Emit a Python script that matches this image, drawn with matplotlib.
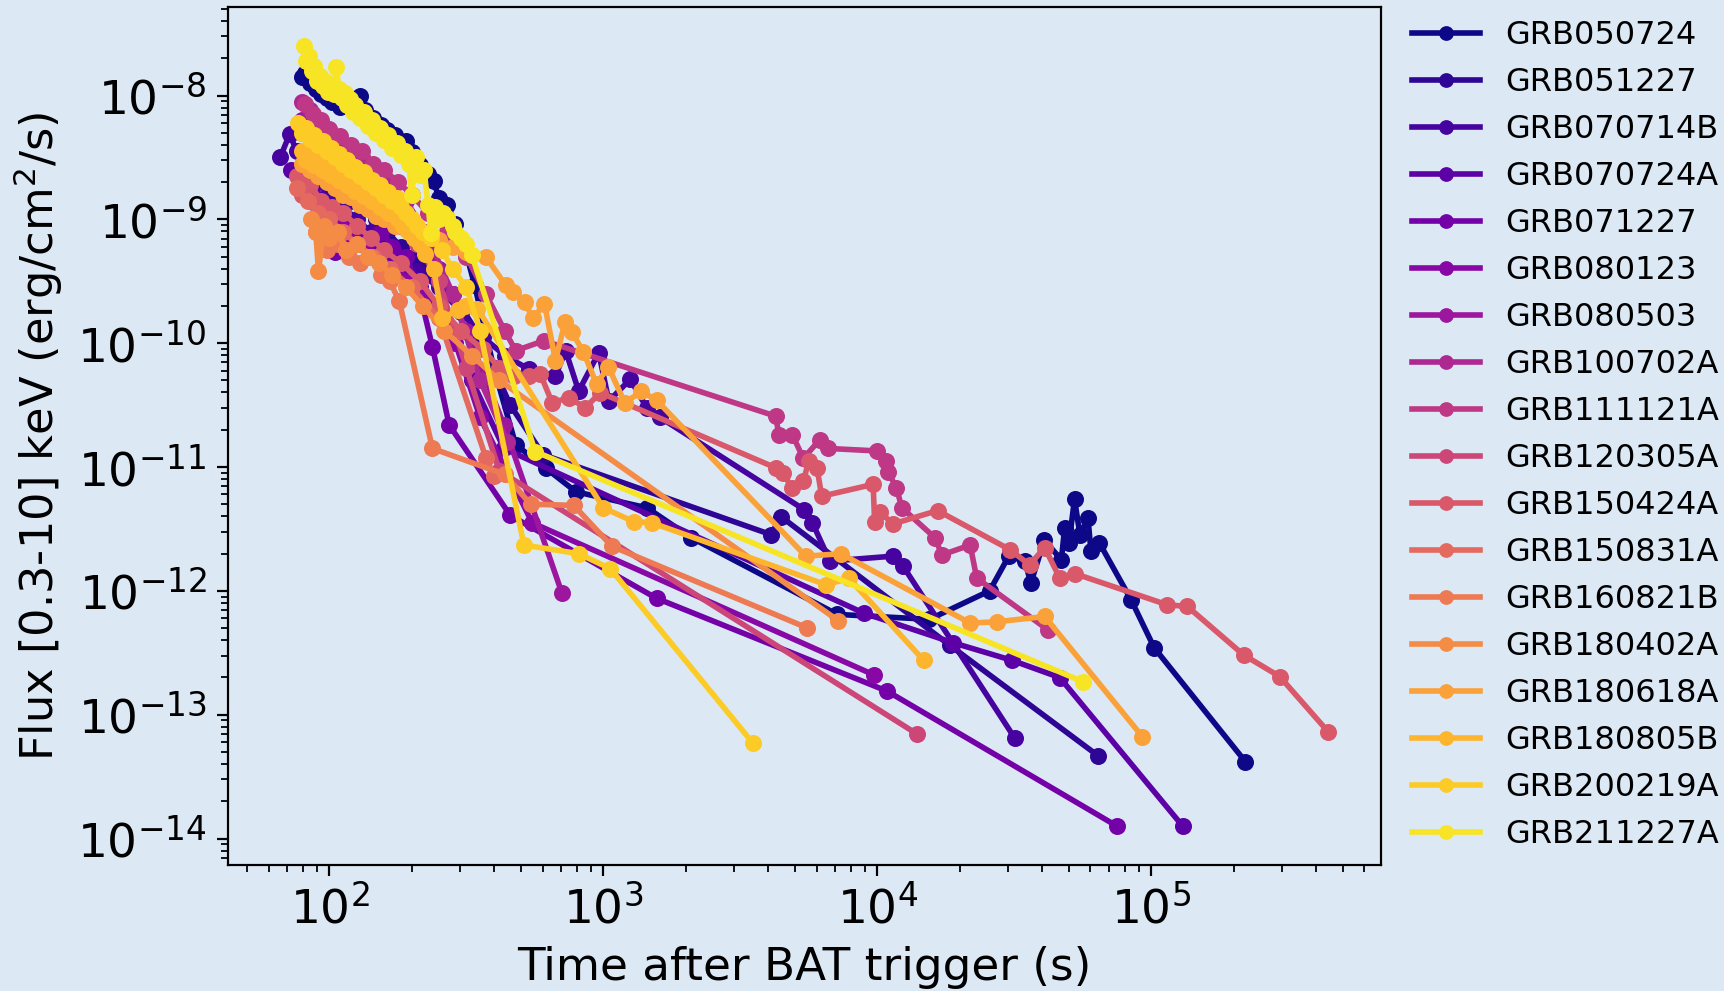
"""X-ray afterglow light curves of short GRBs (Swift/XRT, 0.3-10 keV)."""

import matplotlib

matplotlib.use("Agg")
import matplotlib.pyplot as plt
import numpy as np

BG = "#dce9f5"

GRB_NAMES = [
    "GRB050724", "GRB051227", "GRB070714B", "GRB070724A", "GRB071227",
    "GRB080123", "GRB080503", "GRB100702A", "GRB111121A", "GRB120305A",
    "GRB150424A", "GRB150831A", "GRB160821B", "GRB180402A", "GRB180618A",
    "GRB180805B", "GRB200219A", "GRB211227A",
]

# log10(time after trigger / s) and log10(flux / erg cm^-2 s^-1)
t_050724 = [1.898, 1.91, 1.93, 1.95, 1.97, 1.99, 2.01, 2.04, 2.07, 2.09, 2.11, 2.13, 2.16,
            2.19, 2.21, 2.24, 2.26, 2.28, 2.30, 2.33, 2.36, 2.38, 2.40, 2.43, 2.46, 2.49,
            2.53, 2.60, 2.68, 2.79, 2.90, 3.16, 3.32, 3.854, 4.19, 4.41, 4.48, 4.54, 4.56,
            4.61, 4.672, 4.684, 4.70, 4.72, 4.74, 4.769, 4.78, 4.81, 4.926, 5.011, 5.344]
f_050724 = [-7.85, -7.82, -7.90, -7.95, -7.99, -8.02, -8.05, -8.09, -8.08, -8.06, -8.0, -8.12,
            -8.18, -8.24, -8.28, -8.32, -8.38, -8.37, -8.46, -8.56, -8.63, -8.69, -8.83, -8.88,
            -9.04, -9.2, -9.53, -10.2, -10.82, -11.01, -11.2, -11.33, -11.57, -12.19, -12.23,
            -12.0, -11.72, -11.76, -11.94, -11.59, -11.75, -11.49, -11.61, -11.26, -11.55,
            -11.41, -11.68, -11.61, -12.07, -12.46, -13.38]

t_051227 = [1.95, 1.98, 2.01, 2.05, 2.09, 2.13, 2.17, 2.21, 2.26, 2.31, 2.37, 2.45, 2.55, 2.66,
            2.78, 3.612, 3.648, 4.265, 4.805]
f_051227 = [-8.45, -8.6, -8.65, -8.75, -8.85, -8.9, -9.0, -9.1, -9.22, -9.3, -9.4, -9.6, -9.95,
            -10.5, -10.9, -11.546, -11.40, -12.44, -13.33]

t_070714B = [1.82, 1.855, 1.88, 1.92, 1.96, 2.0, 2.05, 2.1, 2.15, 2.2, 2.25, 2.32, 2.4, 2.48,
             2.56, 2.64, 2.728, 2.825, 2.862, 2.91, 2.983, 3.02, 3.098, 3.158, 3.207, 3.733,
             3.763, 3.827, 4.056, 4.094, 4.502]
f_070714B = [-8.50, -8.31, -8.45, -8.62, -8.70, -8.78, -8.9, -9.0, -9.1, -9.2, -9.3, -9.42,
             -9.55, -9.75, -9.95, -10.1, -10.21, -10.265, -10.06, -10.387, -10.077, -10.467,
             -10.292, -10.52, -10.60, -11.344, -11.45, -11.76, -11.72, -11.80, -13.19]

t_070724A = [1.86, 1.9, 1.94, 1.98, 2.02, 2.06, 2.1, 2.15, 2.2, 2.26, 2.33, 2.42, 2.52, 2.637,
             3.951, 4.278, 4.49, 4.666, 5.115]
f_070724A = [-8.6, -8.72, -8.8, -8.9, -8.95, -9.05, -9.1, -9.2, -9.3, -9.4, -9.55, -9.8, -10.3,
             -10.85, -12.18, -12.42, -12.56, -12.70, -13.9]

t_071227 = [1.97, 2.02, 2.05, 2.07, 2.1, 2.12, 2.16, 2.19, 2.23, 2.28, 2.33, 2.376, 2.437, 2.66,
            3.194, 4.036, 4.875]
f_071227 = [-8.95, -9.26, -9.01, -9.18, -9.05, -9.2, -9.15, -9.1, -9.22, -9.3, -9.6, -10.03,
            -10.66, -11.39, -12.06, -12.81, -13.90]

t_080123 = [1.92, 1.96, 2.0, 2.04, 2.08, 2.13, 2.18, 2.24, 2.3, 2.38, 2.46, 2.55, 2.74, 3.988]
f_080123 = [-8.8, -8.9, -9.0, -9.05, -9.15, -9.2, -9.3, -9.4, -9.5, -9.7, -10.0, -10.6, -11.45,
            -12.679]

t_080503 = [1.9, 1.94, 1.98, 2.02, 2.06, 2.1, 2.15, 2.2, 2.26, 2.32, 2.4, 2.5, 2.637, 2.849]
f_080503 = [-8.2, -8.3, -8.38, -8.45, -8.55, -8.62, -8.72, -8.85, -9.0, -9.15, -9.4, -9.9,
            -10.66, -12.02]

t_100702A = [1.9, 1.93, 1.96, 2.0, 2.04, 2.08, 2.12, 2.17, 2.22, 2.28, 2.35, 2.45, 2.55, 2.65]
f_100702A = [-8.05, -8.12, -8.2, -8.28, -8.36, -8.44, -8.5, -8.6, -8.72, -8.85, -9.1, -9.6,
             -10.3, -10.8]

t_111121A = [1.91, 1.94, 1.97, 2.0, 2.04, 2.08, 2.12, 2.16, 2.2, 2.25, 2.3, 2.36, 2.43, 2.5,
             2.57, 2.64, 2.68, 2.783, 3.63, 3.64, 3.69, 3.73, 3.79, 3.82, 4.0, 4.03, 4.04, 4.07,
             4.09, 4.21, 4.236, 4.339, 4.363, 4.623]
f_111121A = [-8.07, -8.15, -8.2, -8.27, -8.33, -8.4, -8.45, -8.55, -8.6, -8.7, -8.8, -8.95, -9.1,
             -9.3, -9.6, -9.9, -10.06, -9.98, -10.59, -10.74, -10.74, -10.93, -10.78, -10.85,
             -10.87, -10.95, -11.04, -11.17, -11.33, -11.57, -11.71, -11.63, -11.897, -12.315]

t_120305A = [1.9, 1.94, 1.98, 2.02, 2.06, 2.1, 2.15, 2.2, 2.26, 2.32, 2.4, 2.5, 2.62, 4.145]
f_120305A = [-8.3, -8.4, -8.47, -8.55, -8.62, -8.7, -8.8, -8.9, -9.05, -9.2, -9.5, -10.2, -11.03,
             -13.156]

t_150424A = [1.88, 1.9, 1.93, 1.97, 2.01, 2.05, 2.1, 2.15, 2.2, 2.26, 2.33, 2.4, 2.48, 2.56,
             2.62, 2.674, 2.728, 2.77, 2.813, 2.874, 2.934, 2.989, 3.63, 3.655, 3.69, 3.73,
             3.75, 3.78, 3.797, 3.985, 3.99, 4.01, 4.056, 4.22, 4.484, 4.556, 4.611, 4.666,
             4.72, 5.059, 5.132, 5.337, 5.469, 5.646]
f_150424A = [-8.65, -8.8, -8.72, -8.85, -8.9, -8.95, -9.05, -9.15, -9.25, -9.35, -9.5, -9.7,
             -9.9, -10.05, -10.2, -10.265, -10.265, -10.25, -10.48, -10.44, -10.52, -10.40,
             -11.007, -11.05, -11.17, -11.115, -10.95, -11.007, -11.236, -11.14, -11.44, -11.36,
             -11.46, -11.352, -11.667, -11.79, -11.65, -11.897, -11.86, -12.113, -12.126,
             -12.517, -12.692, -13.138]

t_150831A = [1.88, 1.92, 1.96, 2.0, 2.05, 2.1, 2.16, 2.22, 2.3, 2.4, 2.572, 2.6]
f_150831A = [-8.75, -8.85, -8.95, -9.0, -9.1, -9.2, -9.3, -9.4, -9.55, -9.8, -10.93, -11.07]

t_160821B = [1.95, 1.99, 2.03, 2.07, 2.11, 2.15, 2.19, 2.22, 2.255, 2.376, 2.64, 2.734, 2.892,
             3.031, 3.745]
f_160821B = [-9.1, -9.25, -9.2, -9.3, -9.35, -9.3, -9.45, -9.5, -9.66, -10.85, -11.06, -11.30,
             -11.31, -11.64, -12.30]

t_180402A = [1.933, 1.95, 1.96, 1.98, 2.0, 2.03, 2.06, 2.1, 2.14, 2.18, 2.23, 2.28, 2.34, 2.42,
             2.52, 2.62, 3.857]
f_180402A = [-8.995, -9.1, -9.42, -9.05, -9.15, -9.1, -9.25, -9.2, -9.3, -9.35, -9.45, -9.55,
             -9.7, -9.9, -10.1, -10.3, -12.24]

t_180618A = [1.9, 1.93, 1.96, 1.99, 2.02, 2.05, 2.08, 2.11, 2.14, 2.17, 2.2, 2.24, 2.28, 2.32,
             2.36, 2.4, 2.45, 2.5, 2.57, 2.643, 2.67, 2.713, 2.743, 2.785, 2.825, 2.86, 2.885,
             2.927, 2.975, 3.018, 3.078, 3.139, 3.194, 3.739, 3.867, 4.339, 4.436, 4.611, 4.968]
f_180618A = [-8.55, -8.6, -8.65, -8.7, -8.75, -8.8, -8.82, -8.88, -8.92, -8.97, -9.0, -9.05,
             -9.08, -9.12, -9.14, -9.17, -9.22, -9.26, -9.30, -9.53, -9.59, -9.67, -9.80, -9.68,
             -10.14, -9.83, -9.91, -10.07, -10.33, -10.19, -10.48, -10.39, -10.46, -11.72,
             -11.70, -12.26, -12.25, -12.207, -13.178]

t_180805B = [1.9, 1.915, 1.93, 1.945, 1.96, 1.975, 1.99, 2.005, 2.02, 2.035, 2.05, 2.065, 2.08,
             2.095, 2.11, 2.125, 2.14, 2.155, 2.17, 2.185, 2.2, 2.215, 2.23, 2.25, 2.27, 2.29,
             2.31, 2.33, 2.35, 2.38, 2.412, 2.47, 2.494, 2.54, 3.0, 3.11, 3.177, 3.812, 3.897,
             4.169]
f_180805B = [-8.45, -8.52, -8.48, -8.56, -8.53, -8.60, -8.57, -8.64, -8.61, -8.68, -8.66, -8.72,
             -8.70, -8.77, -8.74, -8.81, -8.78, -8.85, -8.83, -8.90, -8.88, -8.95, -8.93, -9.0,
             -9.05, -9.1, -9.15, -9.2, -9.28, -9.4, -9.80, -9.73, -9.70, -9.72, -11.33, -11.44,
             -11.45, -11.95, -11.90, -12.56]

t_200219A = [1.886, 1.90, 1.915, 1.93, 1.945, 1.96, 1.975, 1.99, 2.005, 2.02, 2.035, 2.05, 2.065,
             2.08, 2.095, 2.11, 2.125, 2.14, 2.155, 2.17, 2.185, 2.20, 2.215, 2.23, 2.245, 2.26,
             2.28, 2.30, 2.32, 2.34, 2.37, 2.41, 2.45, 2.5, 2.55, 2.71, 2.91, 3.025, 3.546]
f_200219A = [-8.22, -8.30, -8.26, -8.35, -8.32, -8.40, -8.37, -8.45, -8.42, -8.50, -8.47, -8.55,
             -8.52, -8.60, -8.58, -8.65, -8.62, -8.70, -8.68, -8.75, -8.72, -8.80, -8.78, -8.85,
             -8.83, -8.90, -8.95, -9.0, -9.05, -9.1, -9.15, -9.25, -9.4, -9.55, -9.9, -11.63,
             -11.70, -11.82, -13.23]

t_211227A = [1.907, 1.915, 1.925, 1.935, 1.945, 1.955, 1.965, 1.975, 1.985, 1.995, 2.005, 2.015,
             2.025, 2.035, 2.045, 2.055, 2.065, 2.075, 2.085, 2.095, 2.11, 2.125, 2.14, 2.155,
             2.17, 2.185, 2.20, 2.215, 2.23, 2.245, 2.26, 2.275, 2.29, 2.30, 2.315, 2.33, 2.345,
             2.36, 2.37, 2.385, 2.40, 2.415, 2.43, 2.45, 2.46, 2.48, 2.50, 2.52, 2.751, 4.75]
f_211227A = [-7.598, -7.72, -7.68, -7.80, -7.76, -7.88, -7.84, -7.92, -7.88, -7.97, -7.93, -7.99,
             -7.77, -7.95, -8.02, -7.98, -8.08, -8.03, -8.13, -8.08, -8.18, -8.13, -8.25, -8.2,
             -8.3, -8.26, -8.36, -8.32, -8.42, -8.38, -8.48, -8.45, -8.55, -8.80, -8.50, -8.64,
             -8.6, -8.88, -9.11, -8.9, -9.0, -8.95, -8.99, -9.05, -9.1, -9.15, -9.2, -9.29,
             -10.875, -12.733]

LIGHT_CURVES = [
    (t_050724, f_050724), (t_051227, f_051227), (t_070714B, f_070714B),
    (t_070724A, f_070724A), (t_071227, f_071227), (t_080123, f_080123),
    (t_080503, f_080503), (t_100702A, f_100702A), (t_111121A, f_111121A),
    (t_120305A, f_120305A), (t_150424A, f_150424A), (t_150831A, f_150831A),
    (t_160821B, f_160821B), (t_180402A, f_180402A), (t_180618A, f_180618A),
    (t_180805B, f_180805B), (t_200219A, f_200219A), (t_211227A, f_211227A),
]

DPI = 144
fig = plt.figure(figsize=(1724 / DPI, 991 / DPI), dpi=DPI, facecolor=BG)
ax = fig.add_axes([0.1321, 0.1270, 0.6687, 0.8662], facecolor=BG)

colors = plt.cm.plasma(np.linspace(0, 0.95, len(GRB_NAMES)))
for name, (log_t, log_f), c in zip(GRB_NAMES, LIGHT_CURVES, colors):
    ax.plot(10 ** np.array(log_t), 10 ** np.array(log_f), "o-", color=c,
            lw=2.8, ms=7.5, label=name)

ax.set_xscale("log")
ax.set_yscale("log")
ax.set_xlabel("Time after BAT trigger (s)", fontsize=22.6, labelpad=6)
ax.set_ylabel("Flux [0.3-10] keV (erg/cm$^2$/s)", fontsize=22.4, labelpad=6)
ax.tick_params(which="major", labelsize=23.5, length=5.4, width=1.1, pad=5)
ax.tick_params(which="minor", length=3.4, width=0.9)
for sp in ax.spines.values():
    sp.set_linewidth(1.1)

ax.legend(loc="upper left", bbox_to_anchor=(0.8118, 0.993), bbox_transform=fig.transFigure,
          borderaxespad=0, frameon=False, fontsize=16, handlelength=2.1,
          labelspacing=0.5, markerscale=0.85)

fig.savefig("out.png", dpi=DPI, facecolor=BG)
